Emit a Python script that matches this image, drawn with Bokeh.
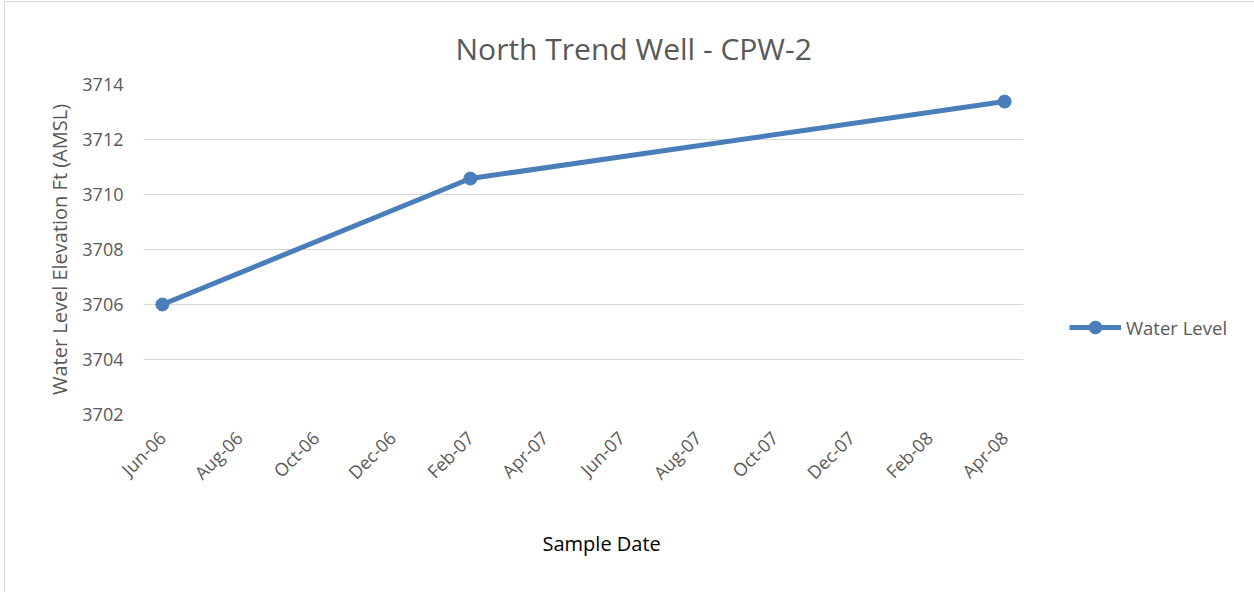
from datetime import datetime, timedelta
from bokeh.plotting import figure
from bokeh.models import (ColumnDataSource, Range1d, FixedTicker, DatetimeTickFormatter,
                          Legend, LegendItem, Title)
from bokeh.embed import file_html
from bokeh.resources import INLINE
import math

# ---- data ----
sample_dates = ["2006-06-01", "2007-02-01", "2008-04-01"]
water_level = [3706.0, 3710.58, 3713.38]
tick_months = ["2006-06-01", "2006-08-01", "2006-10-01", "2006-12-01", "2007-02-01", "2007-04-01",
               "2007-06-01", "2007-08-01", "2007-10-01", "2007-12-01", "2008-02-01", "2008-04-01"]
y_ticks = [3702, 3704, 3706, 3708, 3710, 3712, 3714]

dates = [datetime.fromisoformat(d) for d in sample_dates]
ticks_ms = [datetime.fromisoformat(d).timestamp() * 1000 for d in tick_months]

src = ColumnDataSource(dict(x=dates, y=water_level))

BLUE = "#4a7ebb"
GREY = "#595959"
FONT = "Open Sans"

x_start = datetime.fromisoformat(tick_months[0]) - timedelta(days=15)
x_end = datetime.fromisoformat(tick_months[-1]) + timedelta(days=15)

p = figure(frame_width=880, frame_height=330, x_axis_type="datetime",
           x_range=Range1d(x_start, x_end), y_range=Range1d(3702, 3714),
           output_backend="svg", toolbar_location=None,
           min_border_left=138, min_border_right=231, min_border_top=82, min_border_bottom=178)
p.styles = {"margin-left": "4px", "margin-top": "1px",
            "border-left": "1px solid #d9d9d9", "border-top": "1px solid #d9d9d9"}

p.outline_line_color = None
p.background_fill_color = "white"
p.border_fill_color = "white"

# axes
p.xaxis.ticker = FixedTicker(ticks=ticks_ms)
p.xaxis.formatter = DatetimeTickFormatter(months="%b-%y", days="%b-%y")
p.xaxis.major_label_orientation = math.pi / 4
p.yaxis.ticker = FixedTicker(ticks=y_ticks)
for ax in (p.xaxis[0], p.yaxis[0]):
    ax.axis_line_color = None
    ax.major_tick_line_color = None
    ax.minor_tick_line_color = None
    ax.major_label_text_font = FONT
    ax.major_label_text_color = GREY
p.yaxis.major_label_text_font_size = "18px"
p.xaxis.major_label_text_font_size = "18px"
p.yaxis.major_label_standoff = 14
p.xaxis.major_label_standoff = 14

p.yaxis.axis_label = "Water Level Elevation Ft (AMSL)"
p.yaxis.axis_label_text_font = FONT
p.yaxis.axis_label_text_font_size = "20px"
p.yaxis.axis_label_text_font_style = "normal"
p.yaxis.axis_label_text_color = GREY
p.yaxis.axis_label_standoff = 6

p.xgrid.grid_line_color = None
p.ygrid.ticker = FixedTicker(ticks=y_ticks)
p.ygrid.grid_line_color = "#d9d9d9"
p.ygrid.grid_line_width = 1

# title
t = Title(text="North Trend Well - CPW-2", align="left", offset=312, vertical_align="top",
          text_font=FONT, text_font_size="30px", text_font_style="normal",
          text_color=GREY, standoff=28)
p.add_layout(t, "above")

xl = Title(text="Sample Date", align="left", offset=399,
           text_font=FONT, text_font_size="20px", text_font_style="normal",
           text_color="black", standoff=64)
p.add_layout(xl, "below")

# series
ln = p.line("x", "y", source=src, line_color=BLUE, line_width=5)
sc = p.scatter("x", "y", source=src, size=13, fill_color=BLUE, line_color=BLUE)

legend = Legend(items=[LegendItem(label="Water Level", renderers=[ln, sc])],
                location=(46, 71), border_line_color=None, background_fill_alpha=0,
                label_text_font=FONT, label_text_font_size="18.5px", label_text_color=GREY,
                glyph_width=52, glyph_height=32, label_standoff=5, padding=4, margin=0)
p.add_layout(legend, "right")

open("out.html", "w").write(file_html(p, INLINE))
